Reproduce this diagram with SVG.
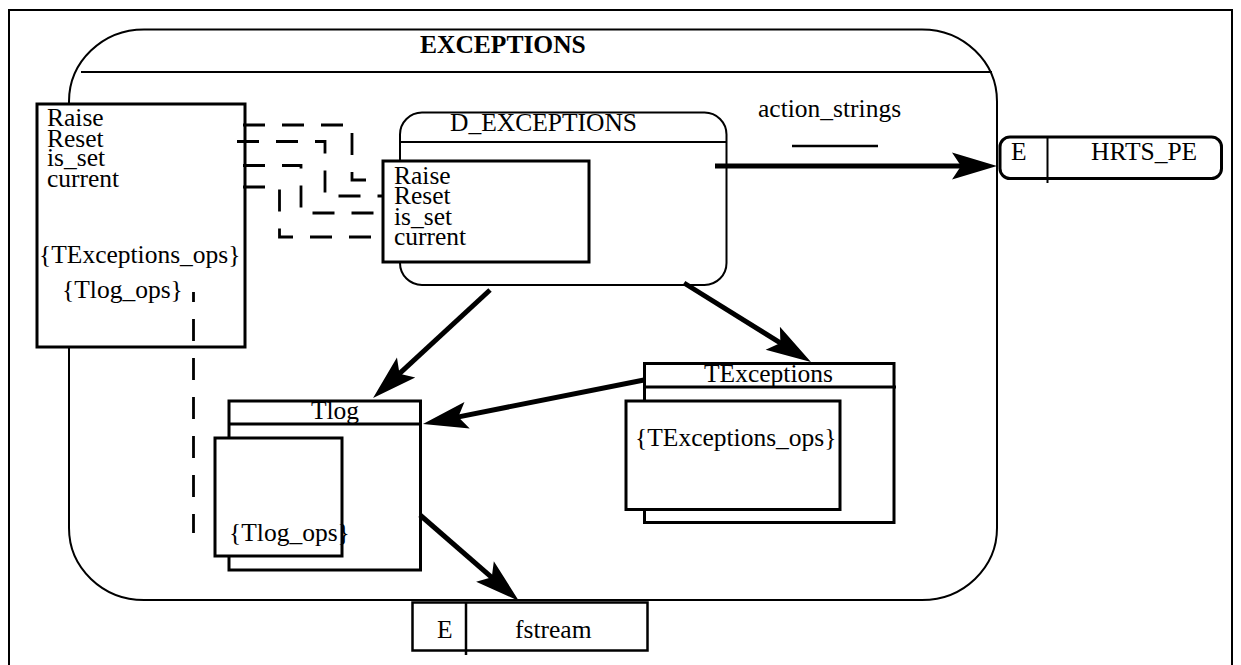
<svg xmlns="http://www.w3.org/2000/svg" width="1241" height="665" viewBox="0 0 1241 665">
<defs>
<style>
.t{font-family:"Liberation Serif","Times New Roman",serif;font-size:25.5px;fill:#000}
.b{font-weight:bold}
.thin{fill:none;stroke:#000;stroke-width:2}
.thick{fill:#fff;stroke:#000;stroke-width:3}
.dash{fill:none;stroke:#000;stroke-width:2.8;stroke-dasharray:22 17}
.arr{fill:none;stroke:#000;stroke-width:5;marker-end:url(#ah)}
</style>
<marker id="ah" markerUnits="userSpaceOnUse" viewBox="-46 -15 48 30" markerWidth="48" markerHeight="30" refX="-30" refY="0" orient="auto">
<path d="M0,0 L-45,-13.5 L-36,0 L-45,13.5 Z" fill="#000"/>
</marker>
</defs>
<rect x="9" y="10" width="1223" height="680" fill="#fff" stroke="#000" stroke-width="2"/>
<g id="EXCEPTIONS">
<rect x="69" y="29.5" width="928" height="570.5" rx="75" ry="72" class="thin"/>
<line x1="81" y1="72" x2="992" y2="72" class="thin"/>
<text x="420" y="53" class="t b">EXCEPTIONS</text>
</g>
<g id="interface">
<rect x="37" y="104" width="208" height="243" class="thick"/>
<text x="47" y="126" class="t">Raise</text>
<text x="47" y="146.5" class="t">Reset</text>
<text x="47" y="166" class="t">is_set</text>
<text x="47" y="187" class="t">current</text>
<text x="39" y="263" class="t">{TExceptions_ops}</text>
<text x="62" y="298" class="t">{Tlog_ops}</text>
</g>
<g id="D_EXCEPTIONS">
<rect x="400" y="112.5" width="326.5" height="172.5" rx="22" class="thin" fill="#fff"/>
<line x1="400" y1="142" x2="726.5" y2="142" class="thin"/>
<text x="450" y="131" class="t">D_EXCEPTIONS</text>
<rect x="383" y="161" width="206" height="101" class="thick"/>
<text x="394" y="183.5" class="t">Raise</text>
<text x="394" y="204" class="t">Reset</text>
<text x="394" y="224.5" class="t">is_set</text>
<text x="394" y="245" class="t">current</text>
</g>
<g id="HRTS_PE">
<rect x="1000" y="137" width="221.5" height="41.5" rx="10" class="thick"/>
<line x1="1047.5" y1="137" x2="1047.5" y2="183" stroke="#000" stroke-width="2"/>
<text x="1011" y="160" class="t">E</text>
<text x="1091" y="160" class="t">HRTS_PE</text>
</g>
<g id="TExceptions">
<rect x="644.5" y="363.5" width="249.5" height="159" class="thick"/>
<line x1="644.5" y1="387" x2="896" y2="387" stroke="#000" stroke-width="3"/>
<text x="768.5" y="381.5" class="t" text-anchor="middle">TExceptions</text>
<rect x="626" y="401" width="214" height="108.5" class="thick"/>
<text x="635" y="446" class="t">{TExceptions_ops}</text>
</g>
<g id="Tlog">
<rect x="229" y="401" width="191.5" height="169" class="thick"/>
<line x1="229" y1="424" x2="420.5" y2="424" stroke="#000" stroke-width="3"/>
<text x="335" y="419" class="t" text-anchor="middle">Tlog</text>
<rect x="215" y="438" width="127" height="118" class="thick"/>
<text x="229" y="541" class="t">{Tlog_ops}</text>
</g>
<g id="fstream">
<rect x="412.5" y="602.5" width="235" height="48" fill="#fff" stroke="#000" stroke-width="2.5"/>
<line x1="466" y1="602.5" x2="466" y2="655" stroke="#000" stroke-width="2.5"/>
<text x="437" y="637.5" class="t">E</text>
<text x="515" y="637.5" class="t">fstream</text>
</g>
<g id="label">
<text x="758" y="117" class="t">action_strings</text>
<line x1="792" y1="146" x2="878" y2="146" stroke="#000" stroke-width="2.5"/>
</g>
<g id="connectors">
<polyline points="243,125 352,125 352,180 383,180" class="dash"/>
<polyline points="237,141.5 325,141.5 325,196 383,196" class="dash"/>
<polyline points="243,165.5 301,165.5 301,213 383,213" class="dash"/>
<polyline points="243,187 279.5,187 279.5,237 383,237" class="dash"/>
<line x1="193.5" y1="292" x2="193.5" y2="533" class="dash" stroke-dashoffset="12"/>
<line x1="715" y1="166" x2="967" y2="166" class="arr"/>
<line x1="490" y1="290" x2="395.1" y2="377.7" class="arr"/>
<line x1="684" y1="283" x2="785.5" y2="346.2" class="arr"/>
<line x1="644" y1="380" x2="452.4" y2="418.1" class="arr"/>
<line x1="420" y1="515" x2="496.3" y2="581.3" class="arr"/>
</g>
</svg>
